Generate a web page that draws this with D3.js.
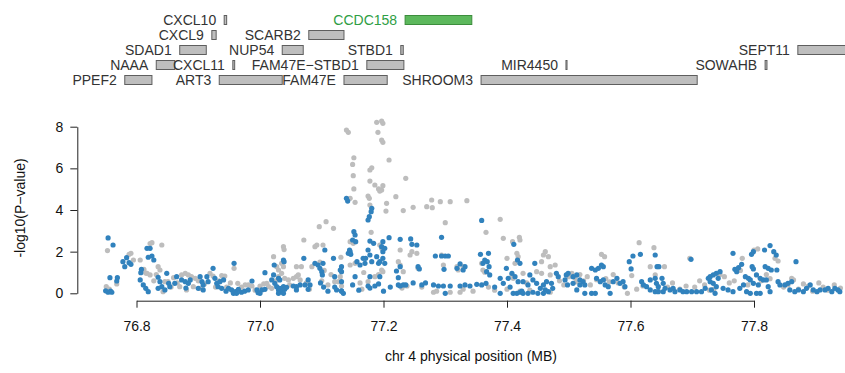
<!DOCTYPE html>
<html>
<head>
<meta charset="utf-8">
<script src="https://cdn.jsdelivr.net/npm/d3@7"></script>
<style>
html,body{margin:0;padding:0;background:#fff;}
svg{display:block;}
text{font-family:"Liberation Sans",Arial,Helvetica,sans-serif;}
</style>
</head>
<body>
<svg id="chart" width="845" height="373"></svg>
<script>
// ---------------- DATA ----------------
const xTicks = [76.8, 77.0, 77.2, 77.4, 77.6, 77.8];
const yTicks = [0, 2, 4, 6, 8];
const xTitle = "chr 4 physical position (MB)";
const yTitle = "-log10(P\u2212value)";

const geneNames = ["CXCL10","CCDC158","CXCL9","SCARB2","SDAD1","NUP54","STBD1","SEPT11",
  "NAAA","CXCL11","FAM47E\u2212STBD1","MIR4450","SOWAHB","PPEF2","ART3","FAM47E","SHROOM3"];
const geneStart = [76.942,77.235,76.922,77.079,76.870,77.036,77.228,77.871,
  76.832,76.956,77.173,77.4955,77.818,76.781,76.934,77.136,77.358];
const geneEnd = [76.946,77.343,76.929,77.136,76.913,77.070,77.232,77.960,
  76.862,76.959,77.233,77.4972,77.821,76.825,77.036,77.206,77.708];
const geneTrack = [0,0,1,1,2,2,2,2,3,3,3,3,3,4,4,4,4];
const highlightGene = "CCDC158";

// gray series [position MB, -log10 p]
const grayPoints = [
[76.751,0.32],[76.753,2.05],[76.756,0.2],[76.768,0.45],[76.788,1.87],[76.791,1.92],[76.795,1.6],[76.806,1.6],
[76.812,1.15],[76.815,0.97],[76.817,0.96],[76.822,0.88],[76.822,2.39],[76.825,2.43],[76.828,0.6],[76.832,0.9],
[76.835,1.28],[76.838,1.12],[76.841,2.32],[76.843,0.08],[76.846,0.56],[76.851,0.56],[76.856,0.3],[76.860,0.75],
[76.866,0.5],[76.873,0.88],[76.879,0.96],[76.884,0.88],[76.889,0.8],[76.895,0.72],[76.870,0.32],[76.881,0.16],
[76.892,0.32],[76.903,0.24],[76.900,0.6],[76.910,0.45],[76.919,0.96],[76.924,0.83],[76.928,0.3],[76.934,0.6],
[76.938,0.85],[76.943,0.83],[76.946,0.3],[76.952,0.5],[76.958,1.2],[76.964,0.48],[76.970,0.3],[76.976,0.4],
[76.981,0.4],[76.987,0.35],[76.992,0.15],[77.000,0.35],[77.006,0.45],[77.011,0.48],[77.014,0.32],[77.019,0.24],
[77.022,1.76],[77.025,0.6],[77.027,1.28],[77.030,1.12],[77.030,0.8],[77.035,0.96],[77.035,1.44],[77.038,2.24],
[77.039,2.1],[77.038,1.28],[77.040,0.72],[77.046,0.64],[77.048,0.4],[77.054,0.72],[77.059,0.8],[77.059,1.28],
[77.062,0.88],[77.065,0.64],[77.067,1.28],[77.071,2.56],[77.075,0.5],[77.080,0.2],[77.084,1.28],[77.089,2.24],
[77.092,2.32],[77.096,3.2],[77.097,1.5],[77.100,0.6],[77.102,2.32],[77.104,1.1],[77.107,3.44],[77.110,0.4],
[77.115,0.9],[77.119,3.12],[77.121,0.56],[77.127,0.56],[77.130,0.8],[77.131,1.73],[77.132,0.35],
[77.140,7.84],[77.143,7.73],[77.146,4.56],[77.146,2.48],[77.150,6.19],[77.151,5.65],[77.151,2.4],[77.152,6.51],
[77.152,5.01],[77.154,4.37],[77.146,1.36],[77.154,1.44],[77.162,0.5],[77.165,0.2],[77.168,1.0],[77.175,4.67],
[77.177,4.56],[77.178,4.24],[77.178,5.92],[77.181,6.03],[77.178,5.39],[77.180,2.93],[77.175,0.56],[77.186,5.2],
[77.189,8.21],[77.191,7.73],[77.192,5.01],[77.194,4.91],[77.197,4.96],[77.197,8.27],[77.199,8.16],[77.197,7.36],
[77.199,7.25],[77.199,5.17],[77.194,2.32],[77.197,2.16],[77.186,0.8],[77.192,0.9],[77.197,1.12],[77.199,1.04],
[77.205,4.32],[77.204,3.95],[77.209,6.4],[77.220,4.64],[77.224,1.52],[77.227,1.36],[77.227,2.08],[77.232,3.97],
[77.232,1.04],[77.236,5.52],[77.230,0.25],[77.238,0.35],[77.243,1.84],[77.246,2.0],[77.248,4.13],[77.254,1.92],
[77.256,1.2],[77.262,0.3],[77.270,4.16],[77.278,4.48],[77.279,4.11],[77.281,0.05],[77.286,0.1],[77.292,4.4],
[77.294,1.84],[77.297,1.36],[77.300,3.39],[77.308,4.4],[77.308,0.05],[77.319,1.28],[77.321,1.12],[77.324,0.05],
[77.329,1.28],[77.329,0.2],[77.335,4.45],[77.345,0.1],[77.359,1.44],[77.361,1.12],[77.364,1.01],[77.366,2.93],
[77.370,0.3],[77.380,0.15],[77.389,3.55],[77.394,2.64],[77.400,1.68],[77.400,0.2],[77.408,0.88],[77.409,2.48],
[77.410,0.72],[77.413,1.44],[77.416,1.92],[77.418,1.76],[77.420,2.69],[77.421,2.56],[77.421,0.1],[77.426,0.96],
[77.432,0.5],[77.437,0.15],[77.448,1.04],[77.456,1.52],[77.456,0.96],[77.459,1.84],[77.462,2.0],[77.467,1.76],
[77.470,1.28],[77.470,0.88],[77.470,0.05],[77.478,1.36],[77.485,0.6],[77.492,0.4],[77.500,0.8],
[77.505,0.96],[77.510,0.75],[77.512,0.55],[77.518,0.9],[77.524,0.6],[77.530,0.8],[77.535,0.4],[77.545,0.65],
[77.553,1.87],[77.558,1.76],[77.560,0.7],[77.566,0.55],[77.572,0.9],[77.580,0.5],[77.590,0.3],[77.595,0.0],
[77.602,0.85],[77.610,0.2],[77.614,2.43],[77.620,0.35],[77.632,1.28],[77.638,2.19],[77.640,0.88],[77.645,0.1],
[77.655,1.28],[77.660,0.3],[77.668,0.5],[77.680,0.2],[77.690,0.35],[77.696,1.68],[77.704,0.3],[77.712,0.6],
[77.720,0.4],[77.728,0.15],[77.735,0.2],[77.745,0.9],[77.752,0.8],[77.760,0.5],[77.768,0.6],[77.778,1.1],
[77.781,1.68],[77.790,0.4],[77.800,2.08],[77.806,2.13],[77.812,0.6],[77.820,0.9],[77.826,0.7],[77.834,1.68],
[77.839,1.55],[77.848,0.3],[77.855,0.4],[77.861,0.72],[77.864,0.64],[77.872,0.2],[77.880,0.45],[77.888,0.35],
[77.895,0.1],[77.905,0.5],[77.912,0.3],[77.920,0.15],[77.930,0.4],[77.940,0.25]
];

// blue series [position MB, -log10 p]
const bluePoints = [
[76.750,0.12],[76.754,0.05],[76.758,0.1],[76.760,0.05],[76.754,2.66],[76.762,2.32],[76.757,0.75],[76.769,0.75],
[76.768,0.59],[76.778,1.52],[76.781,1.28],[76.784,1.71],[76.788,1.47],[76.791,1.39],[76.808,1.15],[76.807,0.99],
[76.806,0.64],[76.811,0.4],[76.815,0.24],[76.819,0.08],[76.817,2.16],[76.822,2.16],[76.819,1.73],[76.825,1.79],
[76.828,1.6],[76.835,0.77],[76.838,0.56],[76.841,0.32],[76.835,0.24],[76.846,0.16],[76.849,0.96],[76.852,0.48],
[76.854,0.32],[76.865,0.8],[76.862,0.48],[76.873,0.64],[76.879,0.56],[76.884,0.48],[76.887,0.64],[76.880,0.25],
[76.903,0.8],[76.906,0.56],[76.908,0.4],[76.900,0.24],[76.914,0.8],[76.916,0.56],[76.908,0.16],[76.924,1.2],
[76.927,0.72],[76.930,0.48],[76.932,0.32],[76.935,0.56],[76.938,0.24],[76.941,0.64],[76.945,0.1],[76.949,0.24],
[76.954,0.16],[76.958,1.44],[76.960,0.08],[76.965,0.19],[76.957,0.0],[76.962,0.0],[76.970,0.05],[76.975,0.1],
[76.981,0.16],[76.987,0.59],[76.995,0.16],[76.997,0.03],[77.003,0.16],[77.008,0.19],[77.000,0.0],[77.008,0.99],
[77.019,0.64],[77.022,0.88],[77.023,1.36],[77.024,0.48],[77.027,0.32],[77.030,0.16],[77.032,0.24],[77.035,0.08],
[77.038,0.32],[77.040,0.19],[77.043,0.29],[77.030,0.0],[77.038,0.0],[77.038,1.6],[77.039,1.52],[77.030,0.72],
[77.032,0.64],[77.054,0.35],[77.059,0.32],[77.065,0.4],[77.059,0.16],[77.073,0.4],[77.078,0.64],[77.081,0.4],
[77.078,0.19],[77.071,1.68],[77.089,1.44],[77.094,1.36],[77.097,1.2],[77.100,1.04],[77.101,0.88],[77.102,1.44],
[77.105,2.08],[77.098,0.5],[77.103,0.3],[77.110,0.1],[77.119,1.68],[77.121,0.8],[77.124,0.16],[77.132,0.12],
[77.135,0.0],[77.130,1.12],[77.132,0.56],[77.143,1.92],[77.145,2.08],[77.140,4.56],[77.142,4.43],
[77.181,4.08],[77.180,3.92],[77.177,3.68],[77.175,3.52],[77.152,2.96],[77.154,2.8],[77.150,2.56],[77.155,2.48],
[77.146,2.0],[77.147,1.87],[77.178,2.51],[77.209,2.67],[77.227,2.59],[77.244,2.61],[77.246,2.35],[77.254,2.32],
[77.184,2.4],[77.199,2.48],[77.197,2.24],[77.202,2.16],[77.199,2.0],[77.175,2.08],[77.178,1.84],[77.171,1.68],
[77.181,1.52],[77.189,1.76],[77.192,1.44],[77.194,1.52],[77.199,1.68],[77.202,1.44],[77.132,1.28],[77.132,1.04],
[77.157,1.52],[77.167,1.68],[77.170,1.44],[77.162,1.36],[77.221,1.07],[77.227,1.28],[77.256,1.28],[77.258,1.17],
[77.154,0.8],[77.178,0.8],[77.194,0.8],[77.224,0.75],[77.121,0.3],[77.132,0.1],[77.150,0.4],[77.160,0.15],
[77.175,0.35],[77.178,0.25],[77.186,0.35],[77.192,0.45],[77.200,0.1],[77.211,0.3],[77.224,0.4],[77.227,0.35],
[77.232,0.4],[77.236,0.4],[77.248,0.5],[77.262,0.4],[77.268,0.5],[77.281,0.4],[77.289,0.35],[77.297,0.35],
[77.308,0.35],[77.300,0.0],[77.324,0.35],[77.332,0.4],[77.340,0.35],[77.284,1.79],[77.294,1.79],[77.300,1.79],
[77.305,1.79],[77.294,2.69],[77.298,1.15],[77.319,1.2],[77.324,1.41],[77.332,1.28],[77.329,1.12],[77.359,3.5],
[77.357,1.87],[77.364,1.6],[77.370,1.92],[77.368,1.52],[77.371,1.28],[77.372,0.88],[77.367,1.04],[77.361,1.44],
[77.351,0.43],[77.359,0.4],[77.366,0.48],[77.380,0.3],[77.389,0.0],[77.389,0.72],[77.394,0.48],[77.402,0.72],
[77.399,1.2],[77.411,2.35],[77.417,1.6],[77.421,1.44],[77.405,0.3],[77.410,0.0],[77.416,0.0],[77.424,0.1],
[77.408,0.96],[77.413,0.8],[77.418,0.56],[77.426,0.56],[77.434,0.4],[77.437,0.88],[77.442,0.64],[77.445,1.44],
[77.448,0.48],[77.454,0.24],[77.459,0.4],[77.462,0.16],[77.464,0.56],[77.467,0.08],[77.472,0.48],[77.474,0.24],
[77.480,0.96],[77.483,0.8],[77.494,0.64],[77.496,0.88],[77.499,0.96],[77.498,0.4],[77.421,0.05],[77.426,0.0],
[77.434,0.0],[77.442,0.05],[77.450,0.0],[77.459,0.0],
[77.507,0.8],[77.513,0.88],[77.518,0.64],[77.523,0.56],[77.526,0.4],[77.518,0.4],[77.507,0.48],[77.526,0.0],
[77.513,0.16],[77.537,1.2],[77.543,1.12],[77.548,1.2],[77.553,1.36],[77.556,1.28],[77.545,0.72],[77.551,0.56],
[77.556,0.64],[77.559,0.4],[77.564,0.32],[77.567,0.0],[77.572,0.56],[77.578,0.72],[77.583,0.48],[77.588,0.56],
[77.591,0.32],[77.537,0.0],[77.543,0.0],[77.604,1.79],[77.616,1.87],[77.640,1.84],[77.598,1.52],[77.601,1.17],
[77.643,1.28],[77.646,1.28],[77.698,1.63],[77.618,0.56],[77.621,0.4],[77.626,0.32],[77.632,0.64],[77.640,0.72],
[77.642,0.48],[77.645,0.32],[77.651,0.72],[77.653,0.48],[77.656,0.24],[77.632,0.16],[77.640,0.08],[77.645,0.08],
[77.653,0.08],[77.664,0.16],[77.669,0.24],[77.672,0.08],[77.680,0.16],[77.685,0.08],[77.691,0.08],[77.699,0.08],
[77.707,0.08],[77.715,0.08],[77.721,0.24],[77.726,0.72],[77.729,0.56],
[77.766,1.92],[77.796,1.87],[77.799,2.0],[77.817,2.08],[77.826,2.29],[77.832,2.0],[77.836,1.84],[77.868,1.52],
[77.780,1.39],[77.769,1.15],[77.772,1.04],[77.775,1.23],[77.797,1.28],[77.799,1.17],[77.818,1.28],[77.823,1.2],
[77.828,1.12],[77.837,1.12],[77.786,0.8],[77.791,0.72],[77.794,0.64],[77.804,0.88],[77.810,0.72],[77.815,0.64],
[77.820,0.64],[77.799,0.48],[77.807,0.4],[77.729,0.8],[77.734,0.88],[77.739,0.96],[77.745,1.04],[77.742,0.72],
[77.734,0.48],[77.739,0.32],[77.731,0.16],[77.737,0.0],[77.750,0.24],[77.758,0.16],[77.766,0.08],[77.777,0.24],
[77.783,0.4],[77.788,0.08],[77.794,0.0],[77.804,0.0],[77.810,0.0],[77.823,0.32],[77.826,0.08],[77.839,0.56],
[77.842,0.4],[77.850,0.4],[77.855,0.48],[77.861,0.56],[77.858,0.16],[77.866,0.08],[77.872,0.16],[77.880,0.08],
[77.885,0.24],[77.891,0.4],[77.896,0.16],[77.902,0.08],[77.907,0.16],[77.915,0.16],[77.920,0.24],[77.926,0.08],
[77.931,0.24],[77.936,0.16],[77.939,0.08]
];

// ---------------- DRAW ----------------
const svg = d3.select("#chart");
const FONT = 14;

const x = d3.scaleLinear().domain([76.8, 77.8]).range([136.5, 754]);
const y = d3.scaleLinear().domain([0, 8]).range([293.3, 126.7]);

// gene track
const rowY = d3.scaleLinear().domain([0, 4]).range([20, 80]);
const genes = geneNames.map((n, i) => ({name: n, s: geneStart[i], e: geneEnd[i], row: geneTrack[i]}));
const gG = svg.append("g");
gG.selectAll("rect").data(genes).join("rect")
  .attr("x", d => x(d.s))
  .attr("y", d => rowY(d.row) - 4.5)
  .attr("width", d => Math.max(1, x(d.e) - x(d.s)))
  .attr("height", 9)
  .attr("fill", d => d.name === highlightGene ? "#5cb85c" : "#bebebe")
  .attr("stroke", d => d.name === highlightGene ? "#3c8d3c" : "#5e5e5e")
  .attr("stroke-width", 1);
gG.selectAll("text").data(genes).join("text")
  .attr("x", d => x(d.s) - 8)
  .attr("y", d => rowY(d.row))
  .attr("dy", "0.36em")
  .attr("text-anchor", "end")
  .attr("font-size", FONT)
  .attr("fill", d => d.name === highlightGene ? "#2e9e44" : "#333333")
  .text(d => d.name);

// points
svg.append("g").selectAll("circle").data(grayPoints).join("circle")
  .attr("cx", d => x(d[0])).attr("cy", d => y(d[1])).attr("r", 2.6)
  .attr("fill", "#bdbdbd");
svg.append("g").selectAll("circle").data(bluePoints).join("circle")
  .attr("cx", d => x(d[0])).attr("cy", d => y(d[1])).attr("r", 2.6)
  .attr("fill", "#3182bd");

// axes
const xAxis = d3.axisBottom(x).tickValues(xTicks).tickFormat(d3.format(".1f"))
  .tickSize(7).tickSizeOuter(0).tickPadding(13);
const gx = svg.append("g").attr("transform", "translate(0,300.7)").call(xAxis);
const yAxis = d3.axisLeft(y).tickValues(yTicks).tickFormat(d3.format("d"))
  .tickSize(7).tickSizeOuter(0).tickPadding(7);
const gy = svg.append("g").attr("transform", "translate(77.3,0)").call(yAxis);
[gx, gy].forEach(g => {
  g.selectAll("text").attr("font-size", FONT).attr("font-family", '"Liberation Sans",Arial,sans-serif').attr("fill", "#111");
  g.selectAll("line,path").attr("stroke", "#222");
});

svg.append("text").attr("x", 471).attr("y", 356).attr("dy", "0.36em")
  .attr("text-anchor", "middle").attr("font-size", FONT).attr("fill", "#111").text(xTitle);
svg.append("text").attr("transform", "translate(20,208) rotate(-90)").attr("dy", "0.36em")
  .attr("text-anchor", "middle").attr("font-size", FONT).attr("fill", "#111").text(yTitle);
</script>
</body>
</html>
